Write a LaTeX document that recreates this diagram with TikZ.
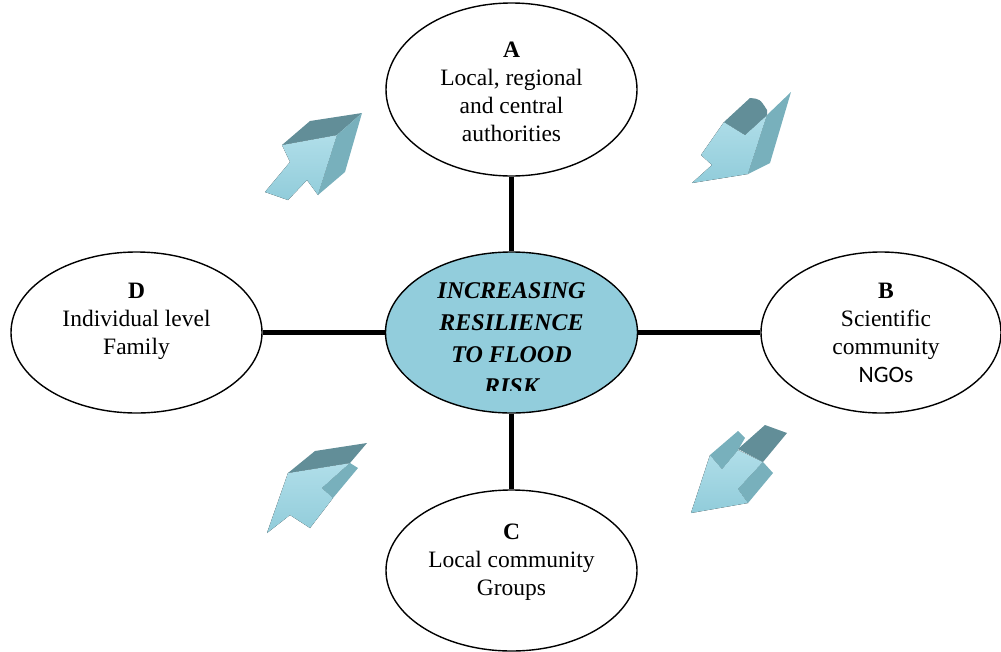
\documentclass[tikz,border=0pt]{standalone}
\usepackage{fontspec}
\usetikzlibrary{shapes.geometric}
\setmainfont{Liberation Serif}
\newfontfamily\calib{Carlito}
\definecolor{hubfill}{RGB}{146,205,220}
\definecolor{facelight}{RGB}{176,222,233}
\definecolor{facelight2}{RGB}{145,204,218}
\definecolor{facetop}{RGB}{98,142,152}
\definecolor{faceside}{RGB}{120,176,188}
\tikzset{
  actor/.style={draw=black, line width=1.4pt, fill=white, ellipse, inner sep=0pt},
  hub/.style={draw=black, line width=1.4pt, fill=hubfill, ellipse, inner sep=0pt},
  link/.style={line width=5pt, black},
  lbl/.style={align=center, inner sep=0pt, anchor=north, font=\fontsize{23.5}{28}\selectfont},
  hublbl/.style={align=center, inner sep=0pt, anchor=north, font=\fontsize{24}{32}\selectfont\bfseries\itshape},
  front/.style={left color=facelight, right color=facelight2, shading angle=0},
  topf/.style={fill=facetop},
  sidef/.style={fill=faceside}
}
\begin{document}
\begin{tikzpicture}[x=1pt,y=-1pt]
\useasboundingbox (0,0) rectangle (1001,651);
\clip (0,0) rectangle (1001,651);
% ellipses
\node[actor, minimum width=251pt, minimum height=173pt] (A) at (511.5,89.5) {};
\node[actor, minimum width=251pt, minimum height=161pt] (D) at (136.5,332.5) {};
\node[actor, minimum width=240pt, minimum height=161pt] (B) at (881,332.5) {};
\node[actor, minimum width=251pt, minimum height=161pt] (C) at (511.5,570.5) {};
\node[hub, minimum width=252pt, minimum height=161pt] (H) at (511.5,332.5) {};
\draw[link] (A.south) -- (H.north);
\draw[link] (H.south) -- (C.north);
\draw[link] (D.east) -- (H.west);
\draw[link] (H.east) -- (B.west);
% labels
\node[lbl] (ta) at (511.5,42) {\textbf{A}\\Local, regional\\and central\\authorities};
\node[lbl] (td) at (136.5,283) {\textbf{D}\\Individual level\\Family};
\node[lbl] (tb) at (886,283) {\textbf{B}\\Scientific\\community\\{\calib NGOs}};
\node[lbl] (tc) at (511.5,524) {\textbf{C}\\Local community\\Groups};
\begin{scope}
\clip (380,250) rectangle (640,390);
\node[hublbl] (th) at (511.5,282) {INCREASING\\RESILIENCE\\TO FLOOD\\RISK};
\end{scope}
% arrow 1 (top-left)
\fill[front] (265,192) -- (290,162) -- (282,145) -- (337,135) -- (318,195) -- (307,180) -- (288,200) -- cycle;
\fill[topf] (282,145) -- (310,121) -- (362,113) -- (337,135) -- cycle;
\fill[sidef] (337,135) -- (362,113) -- (345,172) -- (318,195) -- cycle;
% arrow 2 (top-right)
\fill[front] (692,183) -- (712,165) -- (701,155) -- (724,122) -- (745,135) -- (767,115) -- (748,174) -- cycle;
\fill[topf] (724,122) -- (750,98) .. controls (760,99) .. (767,110) -- (767,115) -- (745,135) -- cycle;
\fill[sidef] (767,115) -- (791,92) -- (770,163) -- (748,174) -- cycle;
% arrow 3 (bottom-left)
\fill[front] (288,473) -- (267,533) -- (290,515) .. controls (300,522) .. (310,528) -- (333,498) -- (322,488) -- (350,463) -- cycle;
\fill[topf] (288,473) -- (315,451) -- (367,443) -- (350,463) -- cycle;
\fill[sidef] (322,488) -- (350,463) -- (358,468) -- (333,498) -- cycle;
% arrow 4 (bottom-right)
\fill[front] (691,513) -- (710,455) -- (722,469) -- (738,450) -- (763,462) -- (738,489) -- (748,503) -- cycle;
\fill[sidef] (710,455) -- (738,431) -- (745,438) -- (738,450) -- (722,469) -- cycle;
\fill[topf] (738,449) -- (765,425) -- (787,433) -- (763,462) -- cycle;
\fill[sidef] (763,462) -- (773,473) -- (748,503) -- (738,489) -- cycle;
\end{tikzpicture}
\end{document}
